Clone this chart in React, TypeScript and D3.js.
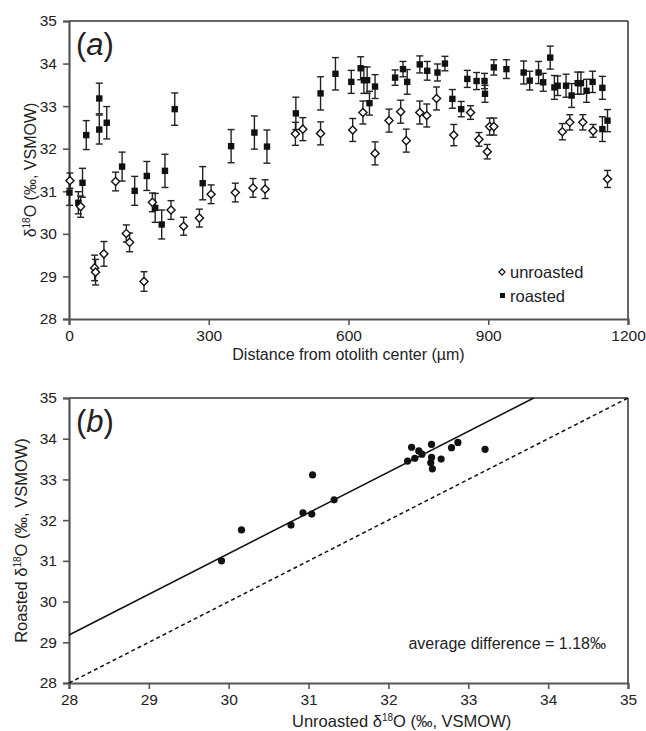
import React, { useEffect, useRef } from 'react';
import * as d3 from 'd3';

// panel (a): distance from otolith center (µm) vs d18O
const unroastedDist = [2, 25, 55, 57, 75, 100, 123, 130, 161, 179, 219, 246, 280, 305, 357, 395, 421, 486, 502, 540, 609, 631, 657, 687, 712, 724, 753, 768, 789, 826, 862, 880, 898, 903, 912, 1059, 1075, 1103, 1125, 1156];
const unroastedVal = [31.25, 30.64, 29.2, 29.1, 29.53, 31.23, 30.01, 29.8, 28.88, 30.74, 30.56, 30.18, 30.37, 30.93, 30.97, 31.08, 31.05, 32.35, 32.46, 32.36, 32.44, 32.85, 31.89, 32.66, 32.87, 32.19, 32.85, 32.78, 33.18, 32.32, 32.85, 32.22, 31.93, 32.52, 32.52, 32.4, 32.62, 32.62, 32.42, 31.29];
const unroastedErr = [0.18, 0.25, 0.3, 0.3, 0.29, 0.22, 0.2, 0.22, 0.23, 0.22, 0.22, 0.21, 0.21, 0.22, 0.22, 0.22, 0.22, 0.27, 0.27, 0.27, 0.27, 0.27, 0.27, 0.27, 0.27, 0.27, 0.27, 0.27, 0.27, 0.25, 0.16, 0.16, 0.17, 0.2, 0.2, 0.19, 0.18, 0.18, 0.15, 0.2];

const roastedDist = [1, 20, 29, 37, 65, 65, 81, 114, 141, 167, 185, 199, 206, 227, 287, 348, 398, 425, 487, 540, 572, 606, 626, 633, 640, 645, 657, 700, 717, 726, 753, 769, 791, 807, 823, 842, 855, 875, 892, 893, 912, 939, 976, 989, 1008, 1018, 1033, 1042, 1049, 1067, 1079, 1092, 1099, 1111, 1124, 1145, 1145, 1156];
const roastedVal = [30.97, 30.73, 31.2, 32.32, 33.18, 32.45, 32.61, 31.58, 31.01, 31.36, 30.61, 30.22, 31.48, 32.93, 31.19, 32.06, 32.38, 32.05, 32.83, 33.3, 33.76, 33.57, 33.89, 33.61, 33.61, 33.07, 33.46, 33.67, 33.87, 33.57, 33.98, 33.83, 33.79, 34.0, 33.17, 32.93, 33.64, 33.59, 33.59, 33.29, 33.91, 33.87, 33.79, 33.6, 33.79, 33.56, 34.14, 33.44, 33.48, 33.48, 33.25, 33.54, 33.54, 33.36, 33.57, 33.43, 32.46, 32.66];
const roastedErr = [0.3, 0.26, 0.34, 0.34, 0.36, 0.34, 0.38, 0.34, 0.34, 0.34, 0.34, 0.34, 0.39, 0.38, 0.39, 0.39, 0.39, 0.39, 0.38, 0.39, 0.38, 0.27, 0.27, 0.31, 0.31, 0.28, 0.28, 0.18, 0.18, 0.29, 0.2, 0.22, 0.2, 0.17, 0.22, 0.18, 0.2, 0.2, 0.18, 0.2, 0.18, 0.22, 0.27, 0.22, 0.26, 0.21, 0.27, 0.28, 0.23, 0.27, 0.28, 0.26, 0.26, 0.27, 0.25, 0.27, 0.29, 0.26];

const distTicks = [0, 300, 600, 900, 1200];
const d18Ticks = [28, 29, 30, 31, 32, 33, 34, 35];

// panel (b): paired samples
const pairUnroasted = [29.91, 30.16, 30.78, 30.93, 31.04, 31.05, 31.32, 32.24, 32.29, 32.33, 32.38, 32.42, 32.53, 32.54, 32.54, 32.55, 32.66, 32.79, 32.87, 33.21];
const pairRoasted = [31.0, 31.76, 31.88, 32.18, 32.15, 33.11, 32.5, 33.45, 33.79, 33.52, 33.7, 33.62, 33.41, 33.86, 33.54, 33.26, 33.5, 33.78, 33.91, 33.74];
const avgDifference = 1.18;

const FONT = "'Liberation Sans', Arial, sans-serif";
const AXIS = '#555';

const App = () => {
  const svgRef = useRef<SVGSVGElement>(null);

  useEffect(() => {
    const svg = d3.select(svgRef.current);
    svg.selectAll('*').remove();

    const left = 69, right = 628;

    // generic frame + axes
    const drawFrame = (g, x, y, xt, yt, top, bottom) => {
      g.append('line').attr('x1', left).attr('x2', right).attr('y1', top).attr('y2', top)
        .attr('stroke', '#333').attr('stroke-width', 1.5);
      g.append('line').attr('x1', right).attr('x2', right).attr('y1', top).attr('y2', bottom)
        .attr('stroke', '#333').attr('stroke-width', 1.5);

      const ya = g.append('g').attr('transform', `translate(${left},0)`)
        .call(d3.axisLeft(y).tickValues(yt).tickSize(6).tickPadding(6).tickFormat(d3.format('d')));
      const xa = g.append('g').attr('transform', `translate(0,${bottom})`)
        .call(d3.axisBottom(x).tickValues(xt).tickSize(6).tickPadding(5).tickFormat(d3.format('d')));
      [ya, xa].forEach(a => {
        a.select('.domain').attr('stroke', AXIS).attr('stroke-width', 2.2);
        a.selectAll('.tick line').attr('stroke', AXIS).attr('stroke-width', 1.6);
        a.selectAll('.tick text').attr('fill', '#222').style('font-family', FONT).style('font-size', '15.5px');
      });
    };

    const panelLabel = (g, letter, top) => {
      const t = g.append('text').attr('x', 76).attr('y', top + 34)
        .style('font-family', FONT).style('font-size', '31px').attr('fill', '#222');
      t.append('tspan').text('(');
      t.append('tspan').style('font-style', 'italic').text(letter);
      t.append('tspan').text(')');
    };

    const d18Text = (t, prefix) => {
      t.append('tspan').text(prefix + 'δ');
      t.append('tspan').attr('dy', -6).style('font-size', '10px').text('18');
      t.append('tspan').attr('dy', 6).text('O (‰, VSMOW)');
    };

    // ---------- panel (a)
    const aTop = 21, aBottom = 319;
    const xA = d3.scaleLinear().domain([0, 1200]).range([left, right]);
    const yA = d3.scaleLinear().domain([28, 35]).range([aBottom, aTop]);
    const ga = svg.append('g');
    drawFrame(ga, xA, yA, distTicks, d18Ticks, aTop, aBottom);

    const errBars = (g, xs, vs, es) => {
      const eb = g.append('g').attr('stroke', '#222').attr('stroke-width', 1.4);
      xs.forEach((d, i) => {
        const cx = xA(d), y1 = yA(vs[i] + es[i]), y2 = yA(vs[i] - es[i]);
        eb.append('line').attr('x1', cx).attr('x2', cx).attr('y1', y1).attr('y2', y2);
        eb.append('line').attr('x1', cx - 3.5).attr('x2', cx + 3.5).attr('y1', y1).attr('y2', y1);
        eb.append('line').attr('x1', cx - 3.5).attr('x2', cx + 3.5).attr('y1', y2).attr('y2', y2);
      });
    };
    errBars(ga, roastedDist, roastedVal, roastedErr);
    errBars(ga, unroastedDist, unroastedVal, unroastedErr);

    const diamond = d3.symbol().type(d3.symbolDiamond2).size(42);
    ga.append('g').selectAll('rect').data(roastedDist).join('rect')
      .attr('x', d => xA(d) - 3.2).attr('y', (d, i) => yA(roastedVal[i]) - 3.2)
      .attr('width', 6.4).attr('height', 6.4).attr('fill', '#111');
    ga.append('g').selectAll('path').data(unroastedDist).join('path')
      .attr('d', diamond)
      .attr('transform', (d, i) => `translate(${xA(d)},${yA(unroastedVal[i])})`)
      .attr('fill', '#fff').attr('stroke', '#111').attr('stroke-width', 1.4);

    // legend
    const lg = ga.append('g').style('font-family', FONT).style('font-size', '16.5px').attr('fill', '#222');
    lg.append('path').attr('d', d3.symbol().type(d3.symbolDiamond2).size(24))
      .attr('transform', 'translate(502,272)').attr('fill', '#fff').attr('stroke', '#111').attr('stroke-width', 1.2);
    lg.append('text').attr('x', 510).attr('y', 278).text('unroasted');
    lg.append('rect').attr('x', 500).attr('y', 293).attr('width', 5).attr('height', 5).attr('fill', '#111');
    lg.append('text').attr('x', 510).attr('y', 302).text('roasted');

    panelLabel(ga, 'a', aTop);
    ga.append('text').attr('x', (left + right) / 2).attr('y', 360).attr('text-anchor', 'middle')
      .style('font-family', FONT).style('font-size', '16px').attr('fill', '#222')
      .text('Distance from otolith center (µm)');
    const ta = ga.append('text').attr('transform', `translate(36,${(aTop + aBottom) / 2}) rotate(-90)`)
      .attr('text-anchor', 'middle').style('font-family', FONT).style('font-size', '16px').attr('fill', '#222');
    d18Text(ta, '');

    // ---------- panel (b)
    const bTop = 398, bBottom = 683;
    const xB = d3.scaleLinear().domain([28, 35]).range([left, right]);
    const yB = d3.scaleLinear().domain([28, 35]).range([bBottom, bTop]);
    const gb = svg.append('g');
    drawFrame(gb, xB, yB, d18Ticks, d18Ticks, bTop, bBottom);

    // 1:1 line (dashed) and offset line (solid)
    const oneToOne = [28, 35];
    gb.append('path').datum(oneToOne)
      .attr('d', d3.line<number>().x(d => xB(d)).y(d => yB(d)))
      .attr('fill', 'none').attr('stroke', '#111').attr('stroke-width', 1.5).attr('stroke-dasharray', '4,3');
    const offsetLine = [28, 35 - avgDifference];
    gb.append('path').datum(offsetLine)
      .attr('d', d3.line<number>().x(d => xB(d)).y(d => yB(d + avgDifference)))
      .attr('fill', 'none').attr('stroke', '#111').attr('stroke-width', 1.5);

    gb.append('g').selectAll('circle').data(pairUnroasted).join('circle')
      .attr('cx', d => xB(d)).attr('cy', (d, i) => yB(pairRoasted[i])).attr('r', 3.6).attr('fill', '#111');

    gb.append('text').attr('x', 606).attr('y', 649).attr('text-anchor', 'end')
      .style('font-family', FONT).style('font-size', '16px').attr('fill', '#222')
      .text(`average difference = ${avgDifference}‰`);

    panelLabel(gb, 'b', bTop);
    const tbx = gb.append('text').attr('x', 292).attr('y', 727)
      .style('font-family', FONT).style('font-size', '16.5px').attr('fill', '#222');
    d18Text(tbx, 'Unroasted ');
    const tby = gb.append('text').attr('transform', `translate(27,${(bTop + bBottom) / 2}) rotate(-90)`)
      .attr('text-anchor', 'middle').style('font-family', FONT).style('font-size', '16.5px').attr('fill', '#222');
    d18Text(tby, 'Roasted ');
  }, []);

  return (
    <div style={{ position: 'absolute', left: 0, top: 0, background: '#fff' }}>
      <svg ref={svgRef} width={646} height={731} style={{ display: 'block' }}></svg>
    </div>
  );
};

export default App;
